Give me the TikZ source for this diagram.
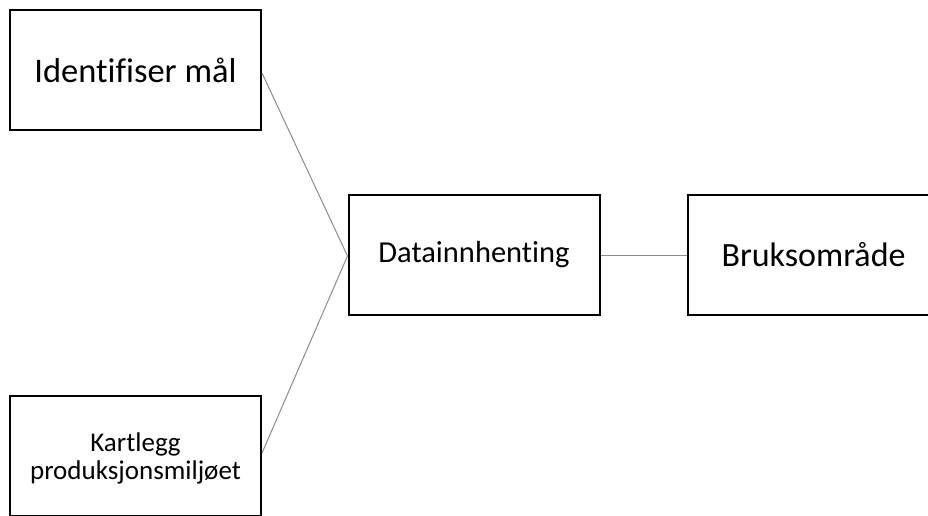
\documentclass[tikz,border=0pt]{standalone}
\usepackage{fontspec}
\setmainfont[Ligatures=CommonOff]{Carlito}
\begin{document}
\begin{tikzpicture}[x=1pt,y=-1pt,
  box/.style={draw=black, line width=2pt, minimum width=251pt, minimum height=120pt,
    inner sep=0pt, align=center, fill=white},
  link/.style={draw=black!45, line width=1pt}]
  \useasboundingbox (0,0) rectangle (928,515);
  \clip (0,0) rectangle (928,515);
  % boxes
  \node[box, font=\fontsize{34.5}{40}\selectfont] (goal) at (135.5,70) {Identifiser mål};
  \node[box, font=\fontsize{27}{28.5}\selectfont] (env) at (135.5,456)
    {\raisebox{-4pt}[\height][\depth]{\begin{tabular}{@{}c@{}}Kartlegg\\produksjonsmiljøet\end{tabular}}};
  \node[box, font=\fontsize{30.5}{34}\selectfont] (data) at (474,255) {Datainnhenting};
  \node[box, font=\fontsize{34}{40}\selectfont] (use) at (813.5,255) {Bruksområde};
  % connectors
  \draw[link] ([yshift=-3pt]goal.east) -- ([yshift=-1pt]data.west);
  \draw[link] ([yshift=3pt]env.east) -- ([yshift=-1pt]data.west);
  \draw[link] (data.east) -- (use.west);
\end{tikzpicture}
\end{document}
